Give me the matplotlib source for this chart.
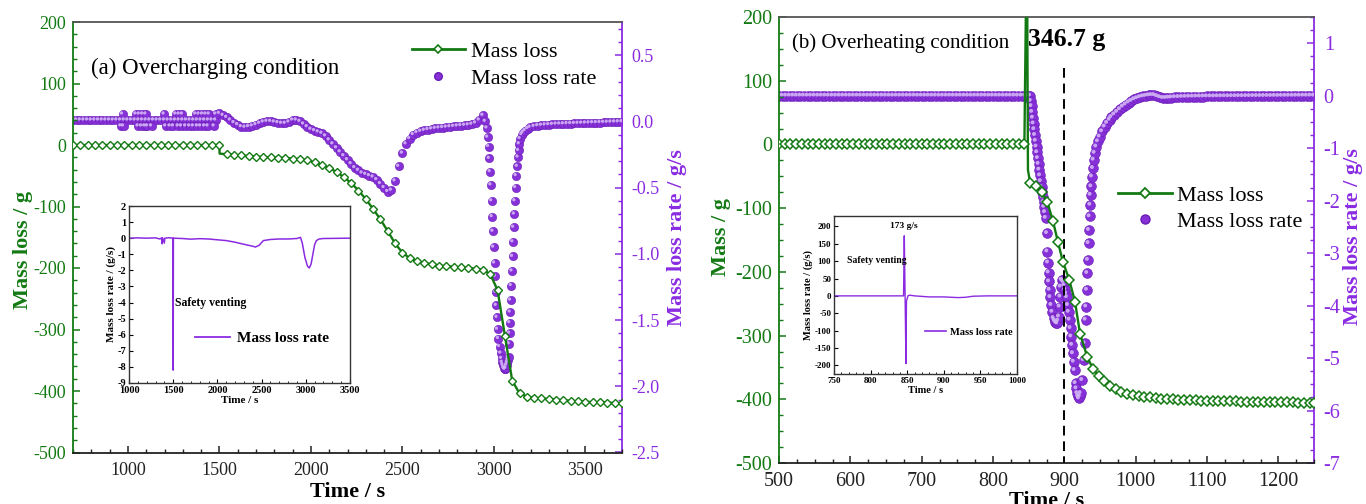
import matplotlib
matplotlib.use('Agg')
import matplotlib.pyplot as plt
from matplotlib.lines import Line2D
from matplotlib.ticker import MultipleLocator, FormatStrFormatter
import matplotlib.transforms as mtrans

plt.rcParams['font.family'] = ['Liberation Serif', 'DejaVu Serif']
plt.rcParams['axes.unicode_minus'] = False

GREEN = '#137a13'
PURPLE = '#8a2be2'
BALL = '#8630d8'
BALL_EDGE = '#6a1cb5'
BALL_HL = '#d2b4f5'

# ---------------- (a) Overcharging: mass loss (g) ----------------
a_mass_t = [700, 740, 780, 820, 860, 900, 940, 980, 1020, 1060, 1100, 1140, 1180, 1220,
            1260, 1300, 1340, 1380, 1420, 1460, 1500, 1501,
            1540, 1580, 1620, 1660, 1700, 1740, 1780, 1820, 1860, 1900, 1940, 1980, 2020,
            2060, 2100, 2140, 2180, 2220, 2260, 2300, 2340, 2380, 2420, 2460, 2500, 2540,
            2580, 2620, 2660, 2700, 2740, 2780, 2820, 2860, 2900, 2940, 2980, 3020, 3060,
            3100, 3140, 3180, 3220, 3260, 3300, 3340, 3380, 3420, 3460, 3500, 3540, 3580,
            3620, 3660, 3700]
a_mass_v = [0, 0, 0, 0, 0, 0, 0, 0, 0, 0, 0, 0, 0, 0,
            0, 0, 0, 0, 0, 0, 0, -14,
            -15, -16, -17, -18, -19, -19.5, -20, -20.5, -21, -22, -23, -25, -28,
            -32, -37, -44, -52, -62, -74, -88, -104, -121, -140, -160, -175, -184,
            -189, -192, -194, -196, -197, -198, -199, -200, -201, -203, -210, -236, -310,
            -383, -404, -409, -411, -412, -413, -414, -415, -416, -417, -417.5, -418, -418.5,
            -419, -419.5, -420]
a_mass_unmarked = [1501]

# ---------------- (a) Overcharging: mass loss rate (g/s) ----------------
a_rate_t = ([700, 720, 740, 760, 780, 800, 820, 840, 860, 880, 900, 920, 940, 960, 980,
             1000, 1020, 1040, 1060, 1080, 1100, 1120, 1140, 1160, 1180, 1200, 1220, 1240,
             1260, 1280, 1300, 1320, 1340, 1360, 1380, 1400, 1420, 1440, 1460, 1480]
            + [1500, 1520, 1540, 1560, 1580, 1600, 1620, 1640, 1660, 1680, 1700, 1720, 1740,
               1760, 1780, 1800, 1820, 1840, 1860, 1880, 1900, 1920, 1940, 1960, 1980, 2000,
               2020, 2040, 2060, 2080, 2100, 2120, 2140, 2160, 2180, 2200, 2220, 2240, 2260,
               2280, 2300, 2320, 2340, 2360, 2380, 2400, 2420, 2440, 2460, 2480, 2500, 2520,
               2540, 2560, 2580, 2600, 2620, 2640, 2660, 2680, 2700, 2720, 2740, 2760, 2780,
               2800, 2820, 2840, 2860, 2880, 2900, 2920, 2940]
            + [2953, 2962, 2966, 2971, 2975, 2980, 2984, 2988, 2991, 2995, 2999, 3004, 3008,
               3011, 3013, 3017, 3020, 3025, 3031, 3038, 3042, 3046, 3050, 3054, 3058, 3062,
               3066, 3070, 3074, 3077, 3080, 3084, 3086, 3087, 3089, 3091, 3095, 3099, 3102,
               3104, 3108, 3112, 3115, 3119, 3122, 3128, 3132, 3135, 3139, 3143, 3153, 3160,
               3171, 3185, 3198]
            + [3220, 3240, 3260, 3280, 3300, 3320, 3340, 3360, 3380, 3400, 3420, 3440, 3460,
               3480, 3500, 3520, 3540, 3560, 3580, 3600, 3620, 3640, 3660, 3680, 3700])
a_rate_v = ([0.01] * 40
            + [0.06, 0.045, 0.03, 0.01, -0.01, -0.025, -0.04, -0.045, -0.04, -0.035, -0.025,
               -0.015, -0.005, 0.0, 0.0, -0.005, -0.01, -0.015, -0.015, -0.005, 0.01, 0.01,
               0.0, -0.02, -0.04, -0.06, -0.07, -0.08, -0.09, -0.11, -0.14, -0.17, -0.2,
               -0.23, -0.26, -0.29, -0.32, -0.35, -0.37, -0.39, -0.40, -0.41, -0.42, -0.44,
               -0.47, -0.50, -0.53, -0.52, -0.45, -0.34, -0.24, -0.17, -0.13, -0.1, -0.085,
               -0.075, -0.068, -0.062, -0.057, -0.053, -0.05, -0.047, -0.044, -0.041, -0.038,
               -0.035, -0.032, -0.03, -0.027, -0.022, -0.012, 0.01, 0.045]
            + [0.0, -0.05, -0.12, -0.19, -0.28, -0.38, -0.48, -0.60, -0.72, -0.83, -0.95,
               -1.07, -1.17, -1.29, -1.39, -1.48, -1.57, -1.64, -1.70, -1.75, -1.79, -1.82,
               -1.84, -1.86, -1.87, -1.87, -1.86, -1.84, -1.82, -1.80, -1.78, -1.68, -1.60,
               -1.52, -1.44, -1.35, -1.24, -1.13, -1.02, -0.91, -0.80, -0.70, -0.60, -0.50,
               -0.41, -0.34, -0.27, -0.22, -0.17, -0.13, -0.10, -0.085, -0.07, -0.055, -0.045]
            + [-0.038, -0.033, -0.03, -0.027, -0.025, -0.023, -0.021, -0.02, -0.019, -0.018,
               -0.017, -0.016, -0.015, -0.014, -0.013, -0.012, -0.011, -0.01, -0.009, -0.008,
               -0.007, -0.006, -0.005, -0.004, -0.003])
# scattered readings (quantised noise) before venting
a_noise_t = [971, 1044, 1062, 1080, 1098, 1198, 1262, 1280, 1298, 1371, 1389, 1408, 1426,
             1444, 1480,
             962, 976, 1056, 1075, 1093, 1107, 1129, 1207, 1231, 1249, 1275, 1293, 1316,
             1338, 1358, 1380, 1398, 1420, 1438, 1471]
a_noise_v = [0.055] * 15 + [-0.035] * 20

# inset (a)
ai_t = [1000, 1100, 1200, 1300, 1350, 1370, 1375, 1380, 1400, 1405, 1450, 1498, 1500, 1502,
        1600, 1700, 1800, 1900, 2000, 2100, 2200, 2300, 2400, 2430, 2470, 2520, 2600, 2700,
        2800, 2900, 2940, 2960, 2990, 3020, 3040, 3060, 3080, 3100, 3120, 3150, 3200, 3500]
ai_v = [0, 0.02, 0, 0.02, -0.05, 0.02, -0.35, 0.02, -0.3, 0.0, 0.03, 0.0, -8.2, 0.0,
        -0.02, -0.06, -0.03, -0.05, -0.1, -0.15, -0.25, -0.38, -0.5, -0.55, -0.45, -0.15,
        -0.08, -0.05, -0.05, -0.02, 0.05, -0.3, -1.2, -1.75, -1.85, -1.6, -1.0, -0.4, -0.15,
        -0.05, -0.02, 0.0]

# ---------------- (b) Overheating: mass (g) ----------------
b_mass_t = ([500, 508, 516, 524, 532, 540, 548, 556, 564, 572, 580, 588, 596, 604, 612, 620,
             628, 636, 644, 652, 660, 668, 676, 684, 692, 700, 708, 716, 724, 732, 740, 748,
             756, 764, 772, 780, 788, 796, 804, 812, 820, 828, 836, 844]
            + [847.5, 849, 852, 860, 868, 876, 884, 891, 898, 907, 915, 922, 932, 940, 948,
               956, 964, 972, 980, 988, 996, 1004, 1012, 1020, 1028, 1036, 1044, 1052, 1060,
               1068, 1076, 1084, 1092, 1100, 1108, 1116, 1124, 1132, 1140, 1148, 1156, 1164,
               1172, 1180, 1188, 1196, 1204, 1212, 1220, 1228, 1236, 1244, 1250])
b_mass_v = ([0.0] * 44
            + [346.7, -40, -60, -66, -74, -90, -120, -153, -184, -213, -247, -297, -333, -352,
               -363, -372, -379, -384, -388, -391, -393, -395, -396, -397, -398, -399, -399.5,
               -400, -400.5, -401, -401, -401.5, -402, -402, -402.5, -402.5, -403, -403, -403,
               -403.5, -403.5, -404, -404, -404, -404.5, -404.5, -405, -405, -405, -405.5,
               -405.5, -406, -406])
b_mass_unmarked = [847.5, 849]
b_peak_label = '346.7 g'

# ---------------- (b) Overheating: mass loss rate (g/s) ----------------
b_rate_t = ([500, 505, 510, 515, 520, 525, 530, 535, 540, 545, 550, 555, 560, 565, 570, 575,
             580, 585, 590, 595, 600, 605, 610, 615, 620, 625, 630, 635, 640, 645, 650, 655,
             660, 665, 670, 675, 680, 685, 690, 695, 700, 705, 710, 715, 720, 725, 730, 735,
             740, 745, 750, 755, 760, 765, 770, 775, 780, 785, 790, 795, 800, 805, 810, 815,
             820, 825, 830, 835, 840, 845, 850]
            + [852, 853, 854, 855, 856, 857, 858, 859, 860, 861, 862, 863, 864, 865, 866, 867,
               868, 869, 870, 871, 872, 873, 874, 875.8, 876.3, 877.2, 878.1, 878.6, 879.5,
               880.5, 881.9, 883.3, 885.1, 886.3, 887.5, 889, 890.3, 891.5, 892.6, 893.5,
               894.5, 894.9, 896.3, 897.5, 899, 900.2, 901.4, 902.6, 903.7, 905.1, 906.3,
               907.5, 908.7, 909.8, 911, 912.1, 913.3, 914.5, 915.9, 917, 918.2, 919.4, 920.6,
               921.8, 922.9, 925.2, 927.1, 928.5, 929.9, 930.8, 931.8, 932.2, 933.2, 934.1,
               934.6, 935.5, 936.5, 936.9, 937.9, 938.8, 940.2, 941.2, 942.6, 944.9, 947.2,
               949.6, 953, 956.6, 960, 963.6]
            + [966, 970, 974, 978, 982, 986, 990, 994, 998, 1002, 1006, 1010, 1014, 1018,
               1022, 1026, 1030, 1034, 1038, 1042, 1046, 1050, 1055, 1060, 1065, 1070, 1075,
               1080, 1085, 1090, 1095, 1100, 1105, 1110, 1115, 1120, 1125, 1130, 1135, 1140,
               1145, 1150, 1155, 1160, 1165, 1170, 1175, 1180, 1185, 1190, 1195, 1200, 1205,
               1210, 1215, 1220, 1225, 1230, 1235, 1240, 1245, 1250])
b_rate_v = ([0.0] * 71
            + [0.0, -0.1, -0.2, -0.31, -0.42, -0.53, -0.64, -0.75, -0.86, -0.97, -1.08, -1.19,
               -1.3, -1.41, -1.52, -1.63, -1.74, -1.84, -1.94, -2.03, -2.12, -2.22, -2.33,
               -2.62, -2.97, -3.18, -3.37, -3.54, -3.70, -3.84, -3.99, -4.12, -4.24, -4.28,
               -4.31, -4.33, -4.34, -4.29, -4.21, -4.02, -3.83, -3.64, -3.51, -3.52, -3.55,
               -3.62, -3.70, -3.77, -3.84, -3.99, -4.12, -4.27, -4.43, -4.59, -4.75, -4.91,
               -5.07, -5.23, -5.48, -5.58, -5.67, -5.73, -5.77, -5.73, -5.67, -5.42, -5.04,
               -4.72, -4.27, -4.02, -3.70, -3.38, -3.13, -2.81, -2.56, -2.30, -2.08, -1.89,
               -1.73, -1.54, -1.38, -1.22, -1.09, -0.97, -0.87, -0.78, -0.68, -0.59, -0.52,
               -0.46]
            + [-0.41, -0.36, -0.31, -0.26, -0.21, -0.17, -0.13, -0.1, -0.07, -0.05, -0.03,
               -0.015, -0.005, 0.005, 0.01, 0.01, -0.01, -0.03, -0.045, -0.045, -0.04, -0.035,
               -0.03, -0.028, -0.025, -0.023, -0.02, -0.02, -0.018, -0.017, -0.016, -0.015,
               -0.014, -0.014, -0.013, -0.013, -0.012, -0.012, -0.011, -0.011, -0.01, -0.01,
               -0.009, -0.009, -0.008, -0.008, -0.007, -0.007, -0.006, -0.006, -0.005,
               -0.005, -0.004, -0.004, -0.003, -0.003, -0.002, -0.002, -0.001, -0.001, 0.0,
               0.0])
b_dash_x = 900
b_dash_top = 120

# inset (b)
bi_t = [750, 845, 846, 847, 848.3, 849, 850, 851, 853, 860, 880, 900, 920, 930, 940, 960, 1000]
bi_v = [0, 0, 173, 20, -195, -15, -8, 0, 2, 0, -3, -3, -5, -4, -1, 0, 0]

# ---------------- figure ----------------
fig = plt.figure(figsize=(13.66, 5.04), dpi=100)
W, H = 1366.0, 504.0


def rect(l, r, t, b):
    return [l / W, (H - b) / H, (r - l) / W, (b - t) / H]


def style_main(ax, axr, xmaj, xmin, ymaj, ymin, yrmaj, yrmin, xpad, yrfmt, tsize):
    for a in (ax, axr):
        for sp in a.spines.values():
            sp.set_linewidth(1.3)
    ax.spines['left'].set_color(GREEN)
    ax.spines['top'].set_color('#555555')
    ax.spines['bottom'].set_color('#222222')
    ax.spines['right'].set_visible(False)
    axr.spines['right'].set_color(PURPLE)
    for s in ('left', 'top', 'bottom'):
        axr.spines[s].set_visible(False)
    ax.xaxis.set_major_locator(MultipleLocator(xmaj))
    ax.xaxis.set_minor_locator(MultipleLocator(xmin))
    ax.yaxis.set_major_locator(MultipleLocator(ymaj))
    ax.yaxis.set_minor_locator(MultipleLocator(ymin))
    axr.yaxis.set_major_locator(MultipleLocator(yrmaj))
    axr.yaxis.set_minor_locator(MultipleLocator(yrmin))
    axr.yaxis.set_major_formatter(FormatStrFormatter(yrfmt))
    ax.tick_params(axis='x', which='both', direction='in', colors='#222222',
                   labelsize=tsize, pad=xpad, top=False)
    ax.tick_params(axis='x', which='major', length=5, width=1.1)
    ax.tick_params(axis='x', which='minor', length=3, width=1.0)
    ax.tick_params(axis='y', which='both', direction='in', colors=GREEN,
                   labelsize=tsize, pad=5, right=False)
    ax.tick_params(axis='y', which='major', length=5, width=1.1)
    ax.tick_params(axis='y', which='minor', length=3, width=1.0)
    axr.tick_params(axis='y', which='both', direction='in', colors=PURPLE,
                    labelsize=tsize, pad=7, left=False)
    axr.tick_params(axis='y', which='major', length=5, width=1.1)
    axr.tick_params(axis='y', which='minor', length=3, width=1.0)


def balls(ax, t, v, s):
    ax.scatter(t, v, s=s, color=BALL, edgecolors=BALL_EDGE, linewidths=0.4, zorder=2)
    hl = mtrans.offset_copy(ax.transData, fig=fig, x=-0.8, y=0.8, units='points')
    ax.scatter(t, v, s=s * 0.16, color=BALL_HL, edgecolors='none', transform=hl,
               zorder=3, alpha=0.9)


def mark_idx(tlist, skip):
    return [i for i, tt in enumerate(tlist) if tt not in skip]


# ---------- panel (a) ----------
axa = fig.add_axes(rect(73, 622, 22, 452.5))
axar = axa.twinx()
axa.set_zorder(2)
axar.set_zorder(1)
axa.patch.set_visible(False)

axa.plot(a_mass_t, a_mass_v, color=GREEN, lw=1.7, marker='D', ms=4.0, mfc='white',
         mec=GREEN, mew=1.0, markevery=mark_idx(a_mass_t, a_mass_unmarked), zorder=4)
balls(axar, a_rate_t, a_rate_v, 36)
balls(axar, a_noise_t, a_noise_v, 36)

axa.set_xlim(700, 3700)
axa.set_ylim(-500, 200)
axar.set_ylim(-2.5, 0.75)
style_main(axa, axar, 500, 100, 100, 20, 0.5, 0.1, 7, '%.1f', 13)

axa.set_xlabel('Time / s', fontsize=16, fontweight='bold')
axa.xaxis.set_label_coords(0.5, -0.068)
axa.set_ylabel('Mass loss / g', fontsize=16, fontweight='bold', color=GREEN)
axa.yaxis.set_label_coords(-0.072, 0.47)
axar.set_ylabel('Mass loss rate / g/s', fontsize=16, fontweight='bold', color=PURPLE,
                rotation=90)
axar.yaxis.set_label_coords(1.082, 0.5)

axa.text(0.033, 0.893, '(a) Overcharging condition', transform=axa.transAxes,
         fontsize=16.5, va='center', ha='left')

h_mass = Line2D([], [], color=GREEN, lw=2.0, marker='D', ms=4.0, mfc='white', mec=GREEN, mew=1.2)
h_rate = Line2D([], [], color=BALL, lw=0, marker='o', ms=5.5, mec=BALL_EDGE)
axa.legend([h_mass, h_rate], ['Mass loss', 'Mass loss rate'], loc='center left',
           bbox_to_anchor=(0.617, 0.90), frameon=False, fontsize=16, handlelength=2.4,
           handletextpad=0.25, labelspacing=0.3, borderaxespad=0, borderpad=0)

# inset (a)
ia = fig.add_axes(rect(129, 350, 206, 383))
ia.set_zorder(5)
ia.plot(ai_t, ai_v, color=PURPLE, lw=1.1)
ia.set_xlim(1000, 3500)
ia.set_ylim(-9, 2)
ia.xaxis.set_major_locator(MultipleLocator(500))
ia.xaxis.set_minor_locator(MultipleLocator(100))
ia.yaxis.set_major_locator(MultipleLocator(1))
ia.tick_params(which='both', direction='in', labelsize=7.5, pad=2)
ia.tick_params(which='major', length=3)
ia.tick_params(which='minor', length=1.8)
for lab in ia.get_xticklabels() + ia.get_yticklabels():
    lab.set_fontweight('bold')
for sp in ia.spines.values():
    sp.set_color('#333333')
    sp.set_linewidth(1.0)
ia.set_xlabel('Time / s', fontsize=8, fontweight='bold', labelpad=1)
ia.set_ylabel('Mass loss rate / (g/s)', fontsize=8, fontweight='bold', labelpad=1)
ia.text(1520, -4, 'Safety venting', fontsize=8.5, fontweight='bold', va='center')
ia.legend([Line2D([], [], color=PURPLE, lw=1.3)], ['Mass loss rate'], loc='center left',
          bbox_to_anchor=(0.30, 0.254), frameon=False, borderaxespad=0, borderpad=0,
          handlelength=2.3, handletextpad=0.4, prop={'size': 11, 'weight': 'bold'})

# ---------- panel (b) ----------
axb = fig.add_axes(rect(779, 1314, 17, 463))
axbr = axb.twinx()
axb.set_zorder(2)
axbr.set_zorder(1)
axb.patch.set_visible(False)

axb.plot(b_mass_t, b_mass_v, color=GREEN, lw=1.7, marker='D', ms=4.6, mfc='white',
         mec=GREEN, mew=1.1, markevery=mark_idx(b_mass_t, b_mass_unmarked), zorder=4)
axb.plot([b_dash_x, b_dash_x], [b_dash_top, -500], color='black', lw=1.4, dashes=(5, 3),
         zorder=3)
balls(axbr, b_rate_t, b_rate_v, 50)

axb.set_xlim(500, 1250)
axb.set_ylim(-500, 200)
axbr.set_ylim(-7, 1.5)
style_main(axb, axbr, 100, 25, 100, 25, 1, 0.25, 6.5, '%d', 14.5)

axb.set_xlabel('Time / s', fontsize=16, fontweight='bold')
axb.xaxis.set_label_coords(0.5, -0.062)
axb.set_ylabel('Mass / g', fontsize=16, fontweight='bold', color=GREEN)
axb.yaxis.set_label_coords(-0.09, 0.507)
axbr.set_ylabel('Mass loss rate / g/s', fontsize=16, fontweight='bold', color=PURPLE)
axbr.yaxis.set_label_coords(1.054, 0.507)

axb.text(0.024, 0.942, '(b) Overheating condition', transform=axb.transAxes,
         fontsize=15, va='center', ha='left')
axb.text(849, 164, b_peak_label, fontsize=18.5, fontweight='bold', va='center', ha='left',
         zorder=6)

h_mass_b = Line2D([], [], color=GREEN, lw=2.0, marker='D', ms=5.0, mfc='white', mec=GREEN, mew=1.3)
h_rate_b = Line2D([], [], color=BALL, lw=0, marker='o', ms=6.5, mec=BALL_EDGE)
axb.legend([h_mass_b, h_rate_b], ['Mass loss', 'Mass loss rate'], loc='center left',
           bbox_to_anchor=(0.634, 0.57), frameon=False, fontsize=16, handlelength=2.4,
           handletextpad=0.25, labelspacing=0.25, borderaxespad=0, borderpad=0)

# inset (b)
ib = fig.add_axes(rect(834, 1017, 216, 374))
ib.set_zorder(5)
ib.plot(bi_t, bi_v, color=PURPLE, lw=1.0)
ib.set_xlim(750, 1000)
ib.set_ylim(-225, 230)
ib.xaxis.set_major_locator(MultipleLocator(50))
ib.xaxis.set_minor_locator(MultipleLocator(10))
ib.yaxis.set_major_locator(MultipleLocator(50))
ib.tick_params(which='both', direction='in', labelsize=6.5, pad=2)
ib.tick_params(which='major', length=3)
ib.tick_params(which='minor', length=1.8)
for lab in ib.get_xticklabels() + ib.get_yticklabels():
    lab.set_fontweight('bold')
for sp in ib.spines.values():
    sp.set_color('#333333')
    sp.set_linewidth(1.0)
ib.set_xlabel('Time / s', fontsize=7.5, fontweight='bold', labelpad=1)
ib.set_ylabel('Mass loss rate / (g/s)', fontsize=7.5, fontweight='bold', labelpad=1)
ib.text(768, 103, 'Safety venting', fontsize=7, fontweight='bold', va='center')
ib.text(846, 190, '173 g/s', fontsize=6.8, fontweight='bold', va='bottom', ha='center')
ib.legend([Line2D([], [], color=PURPLE, lw=1.2)], ['Mass loss rate'], loc='center left',
          bbox_to_anchor=(0.497, 0.266), frameon=False, borderaxespad=0, borderpad=0,
          handlelength=2.0, handletextpad=0.4, prop={'size': 7.5, 'weight': 'bold'})

fig.savefig('out.png', dpi=100)
